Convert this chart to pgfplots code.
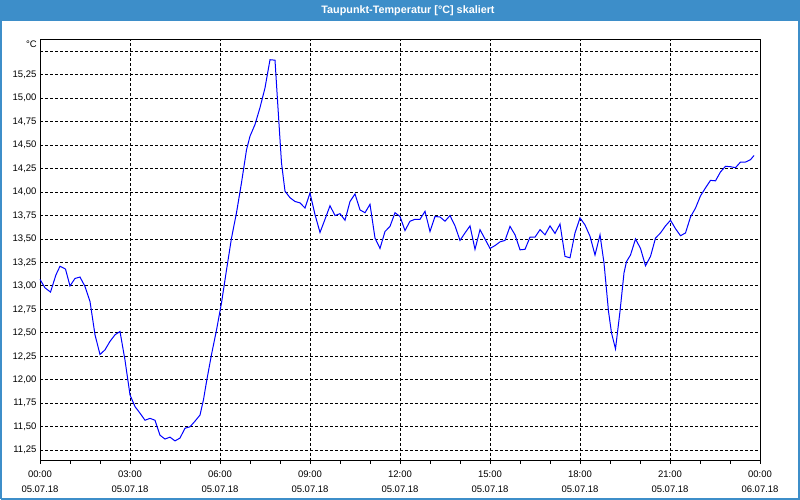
\documentclass[border=0pt]{standalone}
\usepackage{fontspec}
\setmainfont{Liberation Sans}
\usepackage{pgfplots}
\pgfplotsset{compat=1.18}
\definecolor{bar}{HTML}{3D8EC9}
\definecolor{trace}{HTML}{0000FF}

\pgfplotstableread{
t v
0 13.07
10 12.98
21 12.935
32 13.12
40 13.21
51 13.18
60 13.00
70 13.08
80 13.095
90 12.995
100 12.835
110 12.48
120 12.27
130 12.32
140 12.41
150 12.48
160 12.515
170 12.21
180 11.84
190 11.715
200 11.645
210 11.57
220 11.59
230 11.57
240 11.41
250 11.37
260 11.39
270 11.35
280 11.38
290 11.485
300 11.50
310 11.56
320 11.625
327 11.79
333 11.98
343 12.27
353 12.53
363 12.82
373 13.17
383 13.51
393 13.78
403 14.10
413 14.45
420 14.595
430 14.72
440 14.90
450 15.11
460 15.41
470 15.405
477 14.81
483 14.31
490 14.01
500 13.94
510 13.90
520 13.885
530 13.83
540 13.99
550 13.76
560 13.57
570 13.71
580 13.855
590 13.75
600 13.77
610 13.70
620 13.90
630 13.98
640 13.81
650 13.78
660 13.87
670 13.51
680 13.40
690 13.58
700 13.635
710 13.78
720 13.74
730 13.59
740 13.69
750 13.71
760 13.71
770 13.795
780 13.58
790 13.74
800 13.735
810 13.69
820 13.75
830 13.64
840 13.485
850 13.565
860 13.64
870 13.39
880 13.60
890 13.50
900 13.40
910 13.43
920 13.47
930 13.485
940 13.635
950 13.545
960 13.385
970 13.39
980 13.52
990 13.52
1000 13.60
1010 13.545
1020 13.64
1030 13.56
1040 13.66
1050 13.315
1060 13.30
1070 13.565
1080 13.725
1090 13.65
1100 13.53
1110 13.33
1120 13.545
1128 13.245
1137 12.73
1143 12.50
1151 12.33
1160 12.73
1168 13.14
1173 13.26
1181 13.33
1191 13.50
1201 13.40
1211 13.215
1221 13.315
1231 13.51
1241 13.565
1251 13.64
1261 13.70
1271 13.61
1281 13.535
1291 13.565
1301 13.735
1311 13.83
1321 13.96
1331 14.045
1341 14.125
1351 14.12
1361 14.215
1371 14.275
1381 14.27
1391 14.26
1401 14.32
1411 14.32
1421 14.345
1428 14.39
}\dewpoint

\begin{document}
\begin{tikzpicture}[x=1pt,y=1pt]
\useasboundingbox (0,0) rectangle (800,500);
% window frame and title bar
\fill[white] (0,0) rectangle (800,500);
\fill[bar] (0,479) rectangle (800,500);
\draw[bar,line width=2pt] (1,1) -- (799,1) -- (799,480);
\draw[bar,line width=1.5pt] (0.75,1) -- (0.75,480);
\node[white,font=\fontsize{10.8}{12}\selectfont\bfseries] at (408,489.5) {Taupunkt-Temperatur [°C] skaliert};
\node[anchor=east,font=\fontsize{9.5}{11}\selectfont,inner sep=0pt] at (37,455.3) {°C};

\begin{axis}[
  at={(40pt,39.4pt)},anchor=south west,
  scale only axis,width=720pt,height=420.6pt,
  xmin=0,xmax=1440,ymin=11.14,ymax=15.62,
  axis line style={black,line width=1pt},
  xtick={0,180,...,1440},
  minor xtick={60,120,240,300,420,480,600,660,780,840,960,1020,1140,1200,1320,1380},
  xticklabels={{00:00\\05.07.18},{03:00\\05.07.18},{06:00\\05.07.18},{09:00\\05.07.18},
    {12:00\\05.07.18},{15:00\\05.07.18},{18:00\\05.07.18},{21:00\\05.07.18},{00:00\\06.07.18}},
  xtick pos=bottom,
  tick align=outside,
  major tick length=3pt,minor tick length=3pt,
  tick style={black,line width=1pt},
  ytick={11.25,11.5,...,15.25},
  extra y ticks={15.5},extra y tick labels={},
  ytick style={draw=none},
  extra y tick style={ytick style={draw=none}},
  ymajorgrids,xmajorgrids,
  major grid style={black,line width=1pt,dash pattern=on 3pt off 2pt},
  /pgf/number format/assume math mode=true,
  y tick label style={/pgf/number format/use comma,/pgf/number format/fixed,
    /pgf/number format/fixed zerofill,/pgf/number format/precision=2,
    font=\fontsize{9.5}{11}\selectfont,xshift=3pt},
  xticklabel style={align=center,font=\fontsize{9.5}{15.6}\selectfont,yshift=-3.5pt},
  clip=false,
]
\addplot[trace,line width=1pt] table[x=t,y=v] {\dewpoint};
\end{axis}
\end{tikzpicture}
\end{document}
